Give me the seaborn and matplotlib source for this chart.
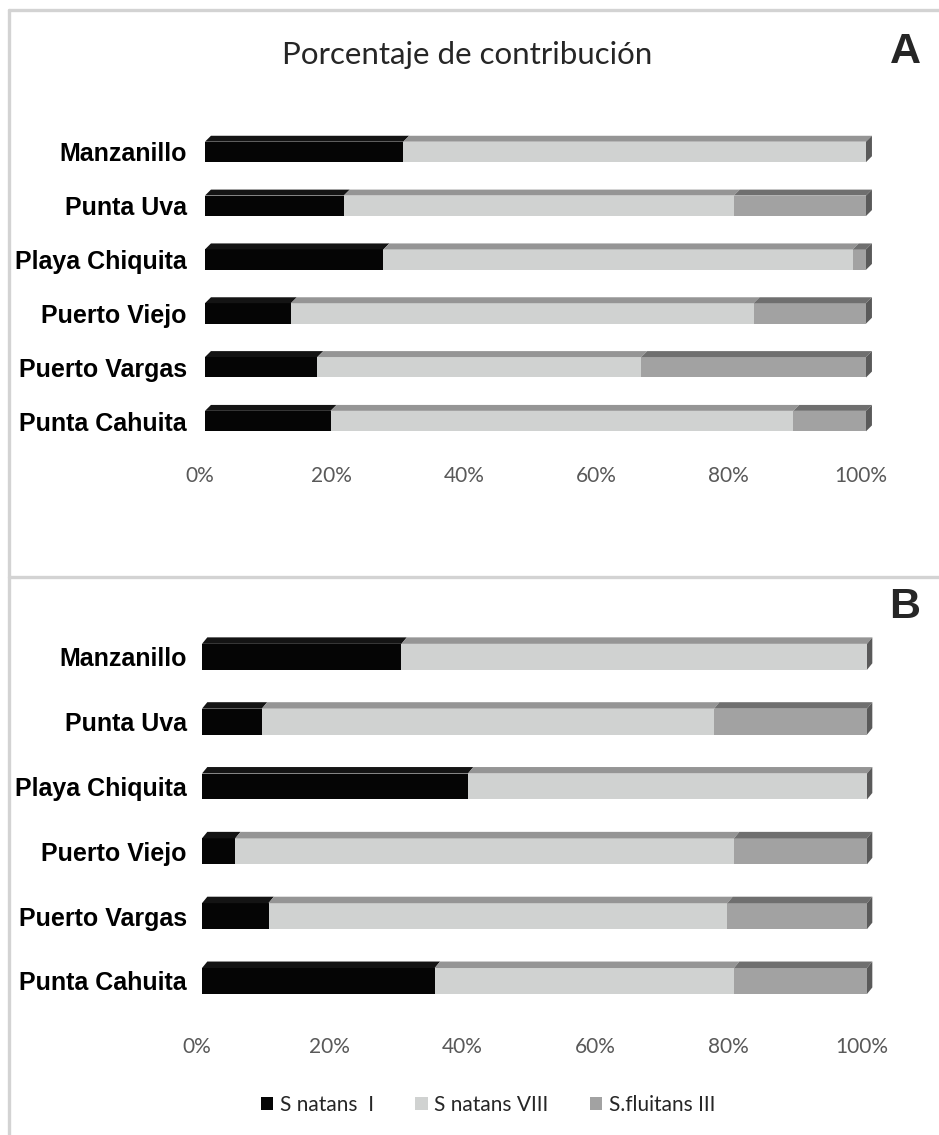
import numpy as np
import pandas as pd
import matplotlib
matplotlib.use("Agg")
import matplotlib.pyplot as plt
from matplotlib.patches import Polygon, Patch
from matplotlib.lines import Line2D
from matplotlib.transforms import ScaledTranslation
import seaborn as sns

# ---- data -------------------------------------------------------------
sites = ["Manzanillo", "Punta Uva", "Playa Chiquita",
         "Puerto Viejo", "Puerto Vargas", "Punta Cahuita"]
series = ["S natans  I", "S natans VIII", "S.fluitans III"]

# Panel A (percent contribution)
a_natans_i = [30, 21, 27, 13, 17, 19]
a_natans_viii = [70, 59, 71, 70, 49, 70]
a_fluitans_iii = [0, 20, 2, 17, 34, 11]

# Panel B (percent contribution)
b_natans_i = [30, 9, 40, 5, 10, 35]
b_natans_viii = [70, 68, 60, 75, 69, 45]
b_fluitans_iii = [0, 23, 0, 20, 21, 20]

ticks = [0, 20, 40, 60, 80, 100]
tick_labels = ["0%", "20%", "40%", "60%", "80%", "100%"]

front_colors = ["#050505", "#d0d2d1", "#a2a2a2"]
top_colors = ["#141414", "#959595", "#6f6f6f"]
cap_color = "#5a5a5a"

sns.set_style("white")
plt.rcParams["font.family"] = ["Lato", "DejaVu Sans"]

fig = plt.figure(figsize=(9.39, 11.35), dpi=100)


def stacked_3d(ax, vals, bar_w, dx, dy, ylab_pad, xlab_pad):
    vals = np.array(vals, dtype=float)
    cum = np.cumsum(vals, axis=0)
    # widest layer first so shorter layers sit on top of it
    for k in range(len(series) - 1, -1, -1):
        df = pd.DataFrame({"site": sites, "value": cum[k]})
        sns.barplot(data=df, x="value", y="site", orient="h",
                    color=front_colors[k], width=bar_w, saturation=1,
                    linewidth=0, ax=ax)
    h = bar_w / 2
    starts = np.vstack([np.zeros(len(sites)), cum[:-1]])
    for i in range(len(sites)):
        for k in range(len(series)):
            a, b = starts[k, i], cum[k, i]
            if b - a <= 0:
                continue
            top = Polygon([(a, i - h), (b, i - h), (b + dx, i - h - dy),
                           (a + dx, i - h - dy)], closed=True,
                          facecolor=top_colors[k], edgecolor="none",
                          clip_on=False, zorder=3)
            ax.add_patch(top)
        end = cum[-1, i]
        cap = Polygon([(end, i - h), (end + dx, i - h - dy),
                       (end + dx, i + h - dy), (end, i + h)], closed=True,
                      facecolor=cap_color, edgecolor="none",
                      clip_on=False, zorder=3)
        ax.add_patch(cap)

    ax.set_xlim(0, 100)
    ax.set_ylim(len(sites) - 0.5, -0.5)
    ax.set_xticks(ticks)
    ax.set_xticklabels(tick_labels, fontsize=15, color="#595959")
    ax.set_xlabel("")
    ax.set_ylabel("")
    ax.set_yticks(range(len(sites)))
    ax.set_yticklabels(sites, fontsize=18, fontweight="bold",
                       family=["Liberation Sans", "DejaVu Sans"],
                       color="#000000")
    ax.tick_params(axis="x", length=0, pad=xlab_pad)
    ax.tick_params(axis="y", length=0, pad=ylab_pad)
    shift = ScaledTranslation(-5.5 / 100, 0, fig.dpi_scale_trans)
    for lab in ax.get_xticklabels():
        lab.set_transform(lab.get_transform() + shift)
    for s in ax.spines.values():
        s.set_visible(False)
    ax.grid(False)
    ax.set_facecolor("none")


# Panel A
axA = fig.add_axes([205 / 939, 1 - 448 / 1135, 661 / 939, 323 / 1135])
stacked_3d(axA, [a_natans_i, a_natans_viii, a_fluitans_iii],
           bar_w=0.38, dx=0.9, dy=0.11, ylab_pad=13, xlab_pad=13)

# Panel B
axB = fig.add_axes([202 / 939, 1 - 1013.4 / 1135, 665 / 939, 389 / 1135])
stacked_3d(axB, [b_natans_i, b_natans_viii, b_fluitans_iii],
           bar_w=0.40, dx=0.8, dy=0.10, ylab_pad=11, xlab_pad=17)

# Titles and panel letters
fig.text(467 / 939, 1 - 55 / 1135, "Porcentaje de contribución",
         ha="center", va="center", fontsize=22.5, color="#262626")
fig.text(905 / 939, 1 - 52 / 1135, "A", ha="center", va="center",
         fontsize=31, fontweight="bold",
         family=["Liberation Sans", "DejaVu Sans"])
fig.text(905 / 939, 1 - 607 / 1135, "B", ha="center", va="center",
         fontsize=31, fontweight="bold",
         family=["Liberation Sans", "DejaVu Sans"])

# Legend
handles = [Patch(facecolor=c, edgecolor="none") for c in front_colors]
fig.legend(handles, series, loc="center", ncol=3,
           bbox_to_anchor=(488 / 939, 1 - 1105 / 1135), frameon=False,
           fontsize=15, handlelength=0.6, handleheight=0.6,
           handletextpad=0.3, columnspacing=2.0,
           labelcolor="#262626")

# Frame lines around the two chart areas
frame_kw = dict(color="#d3d3d3", linewidth=2.4, transform=fig.transFigure)
fig.add_artist(Line2D([9 / 939, 1], [1 - 10 / 1135, 1 - 10 / 1135], **frame_kw))
fig.add_artist(Line2D([9 / 939, 9 / 939], [1 - 10 / 1135, 0], **frame_kw))
fig.add_artist(Line2D([9 / 939, 1], [1 - 577 / 1135, 1 - 577 / 1135], **frame_kw))

fig.savefig("out.png", dpi=100)
